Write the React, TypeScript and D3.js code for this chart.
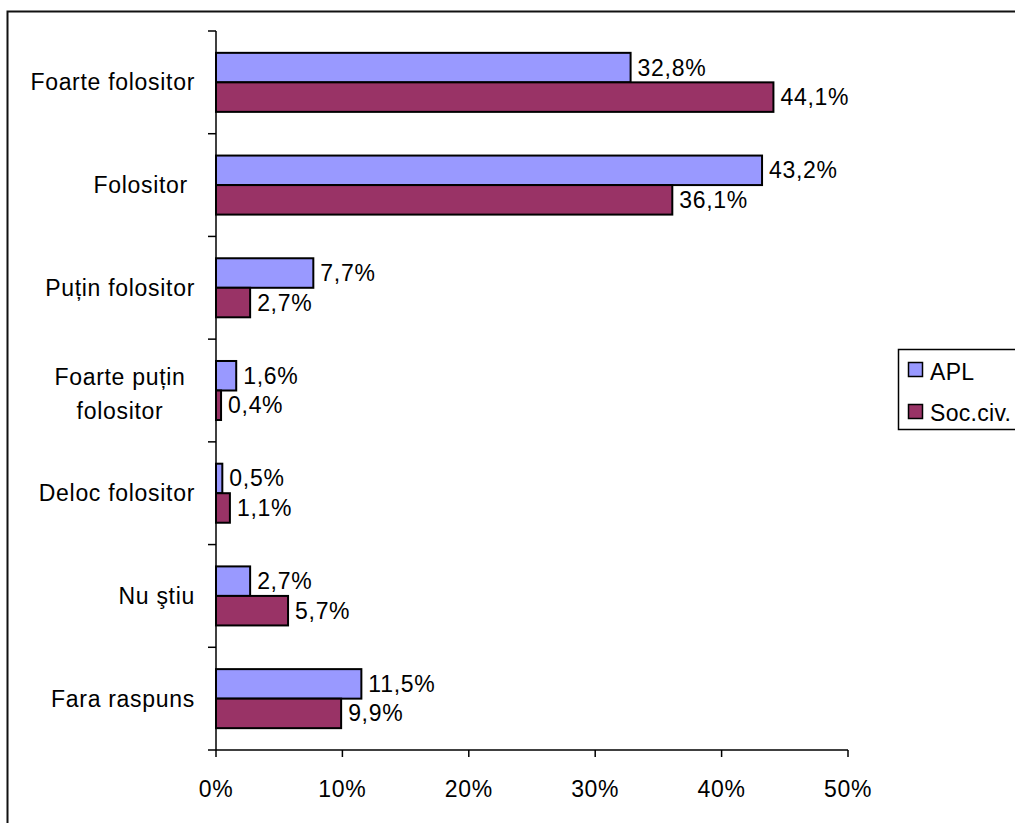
import React from "react";
import * as d3 from "d3";

const categories = [
  "Foarte folositor",
  "Folositor",
  "Puțin folositor",
  "Foarte puțin folositor",
  "Deloc folositor",
  "Nu ştiu",
  "Fara raspuns",
];
const categoryLines: string[][] = [
  ["Foarte folositor"],
  ["Folositor\u00A0"],
  ["Puțin folositor"],
  ["Foarte puțin", "folositor"],
  ["Deloc folositor"],
  ["Nu ştiu"],
  ["Fara raspuns"],
];
const seriesNames = ["APL", "Soc.civ."];
const aplValues = [32.8, 43.2, 7.7, 1.6, 0.5, 2.7, 11.5];
const socValues = [44.1, 36.1, 2.7, 0.4, 1.1, 5.7, 9.9];
const seriesColors = ["#9999FF", "#993366"];
const xTicks = [0, 10, 20, 30, 40, 50];

const FONT = "'Liberation Sans', Arial, Helvetica, sans-serif";
const FS = 23;
const LS = 0.7;

export default function App() {
  const x = d3.scaleLinear().domain([0, 50]).range([216, 848]);
  const y = d3.scaleBand<string>().domain(categories).range([31, 750]).padding(0);
  const inner = d3
    .scaleBand<string>()
    .domain(seriesNames)
    .range([0, y.bandwidth()])
    .paddingInner(0)
    .paddingOuter(0.74);
  const seriesValues = [aplValues, socValues];
  const fmt = (v: number) => v.toFixed(1).replace(".", ",") + "%";
  const boundaries = categories.map((c) => y(c)!).concat([750]);

  return (
    <svg
      width={1015}
      height={823}
      style={{ position: "absolute", left: 0, top: 0, background: "#fff" }}
      fontFamily={FONT}
    >
      <rect x={0} y={0} width={1015} height={823} fill="#fff" />
      <rect x={7.5} y={11.5} width={1020} height={830} fill="none" stroke="#111" strokeWidth={2} />

      {/* bars */}
      {categories.map((c, i) =>
        seriesNames.map((s, j) => {
          const v = seriesValues[j][i];
          const by = y(c)! + inner(s)!;
          const bh = inner.bandwidth();
          return (
            <g key={c + s}>
              <rect
                x={x(0)}
                y={by}
                width={x(v) - x(0)}
                height={bh}
                fill={seriesColors[j]}
                stroke="#000"
                strokeWidth={2}
              />
              <text
                x={x(v) + 7}
                y={by + bh / 2 + 8}
                fontSize={FS}
                letterSpacing={LS}
                fill="#000"
              >
                {fmt(v)}
              </text>
            </g>
          );
        })
      )}

      {/* y axis */}
      <line x1={216} x2={216} y1={31} y2={750} stroke="#000" strokeWidth={1.5} />
      {boundaries.map((b, i) => (
        <line key={"yt" + i} x1={208} x2={216} y1={b} y2={b} stroke="#000" strokeWidth={1.5} />
      ))}

      {/* x axis */}
      <line x1={216} x2={848} y1={750} y2={750} stroke="#000" strokeWidth={1.5} />
      {xTicks.map((t) => (
        <g key={"xt" + t}>
          <line x1={x(t)} x2={x(t)} y1={750} y2={757} stroke="#000" strokeWidth={1.5} />
          <text x={x(t)} y={797} fontSize={FS} letterSpacing={LS} textAnchor="middle" fill="#000">
            {t + "%"}
          </text>
        </g>
      ))}

      {/* category labels */}
      {categories.map((c, i) => {
        const lines = categoryLines[i];
        const cy = y(c)! + y.bandwidth() / 2;
        if (lines.length === 1) {
          return (
            <text key={"cl" + i} x={195} y={cy + 8} fontSize={FS} letterSpacing={LS} textAnchor="end" fill="#000">
              {lines[0]}
            </text>
          );
        }
        return (
          <text key={"cl" + i} x={120} fontSize={FS} letterSpacing={LS} textAnchor="middle" fill="#000">
            {lines.map((l, k) => (
              <tspan key={k} x={120} y={cy + 8 - 14 + k * 34}>
                {l}
              </tspan>
            ))}
          </text>
        );
      })}

      {/* legend */}
      <rect x={898.5} y={349.5} width={130} height={80} fill="#fff" stroke="#000" strokeWidth={1.5} />
      {seriesNames.map((s, j) => (
        <g key={"lg" + s}>
          <rect x={908.5} y={362.5 + j * 42} width={14} height={14} fill={seriesColors[j]} stroke="#000" strokeWidth={1.5} />
          <text x={930} y={380 + j * 41} fontSize={FS} letterSpacing={0.3} fill="#000">
            {s}
          </text>
        </g>
      ))}
    </svg>
  );
}
